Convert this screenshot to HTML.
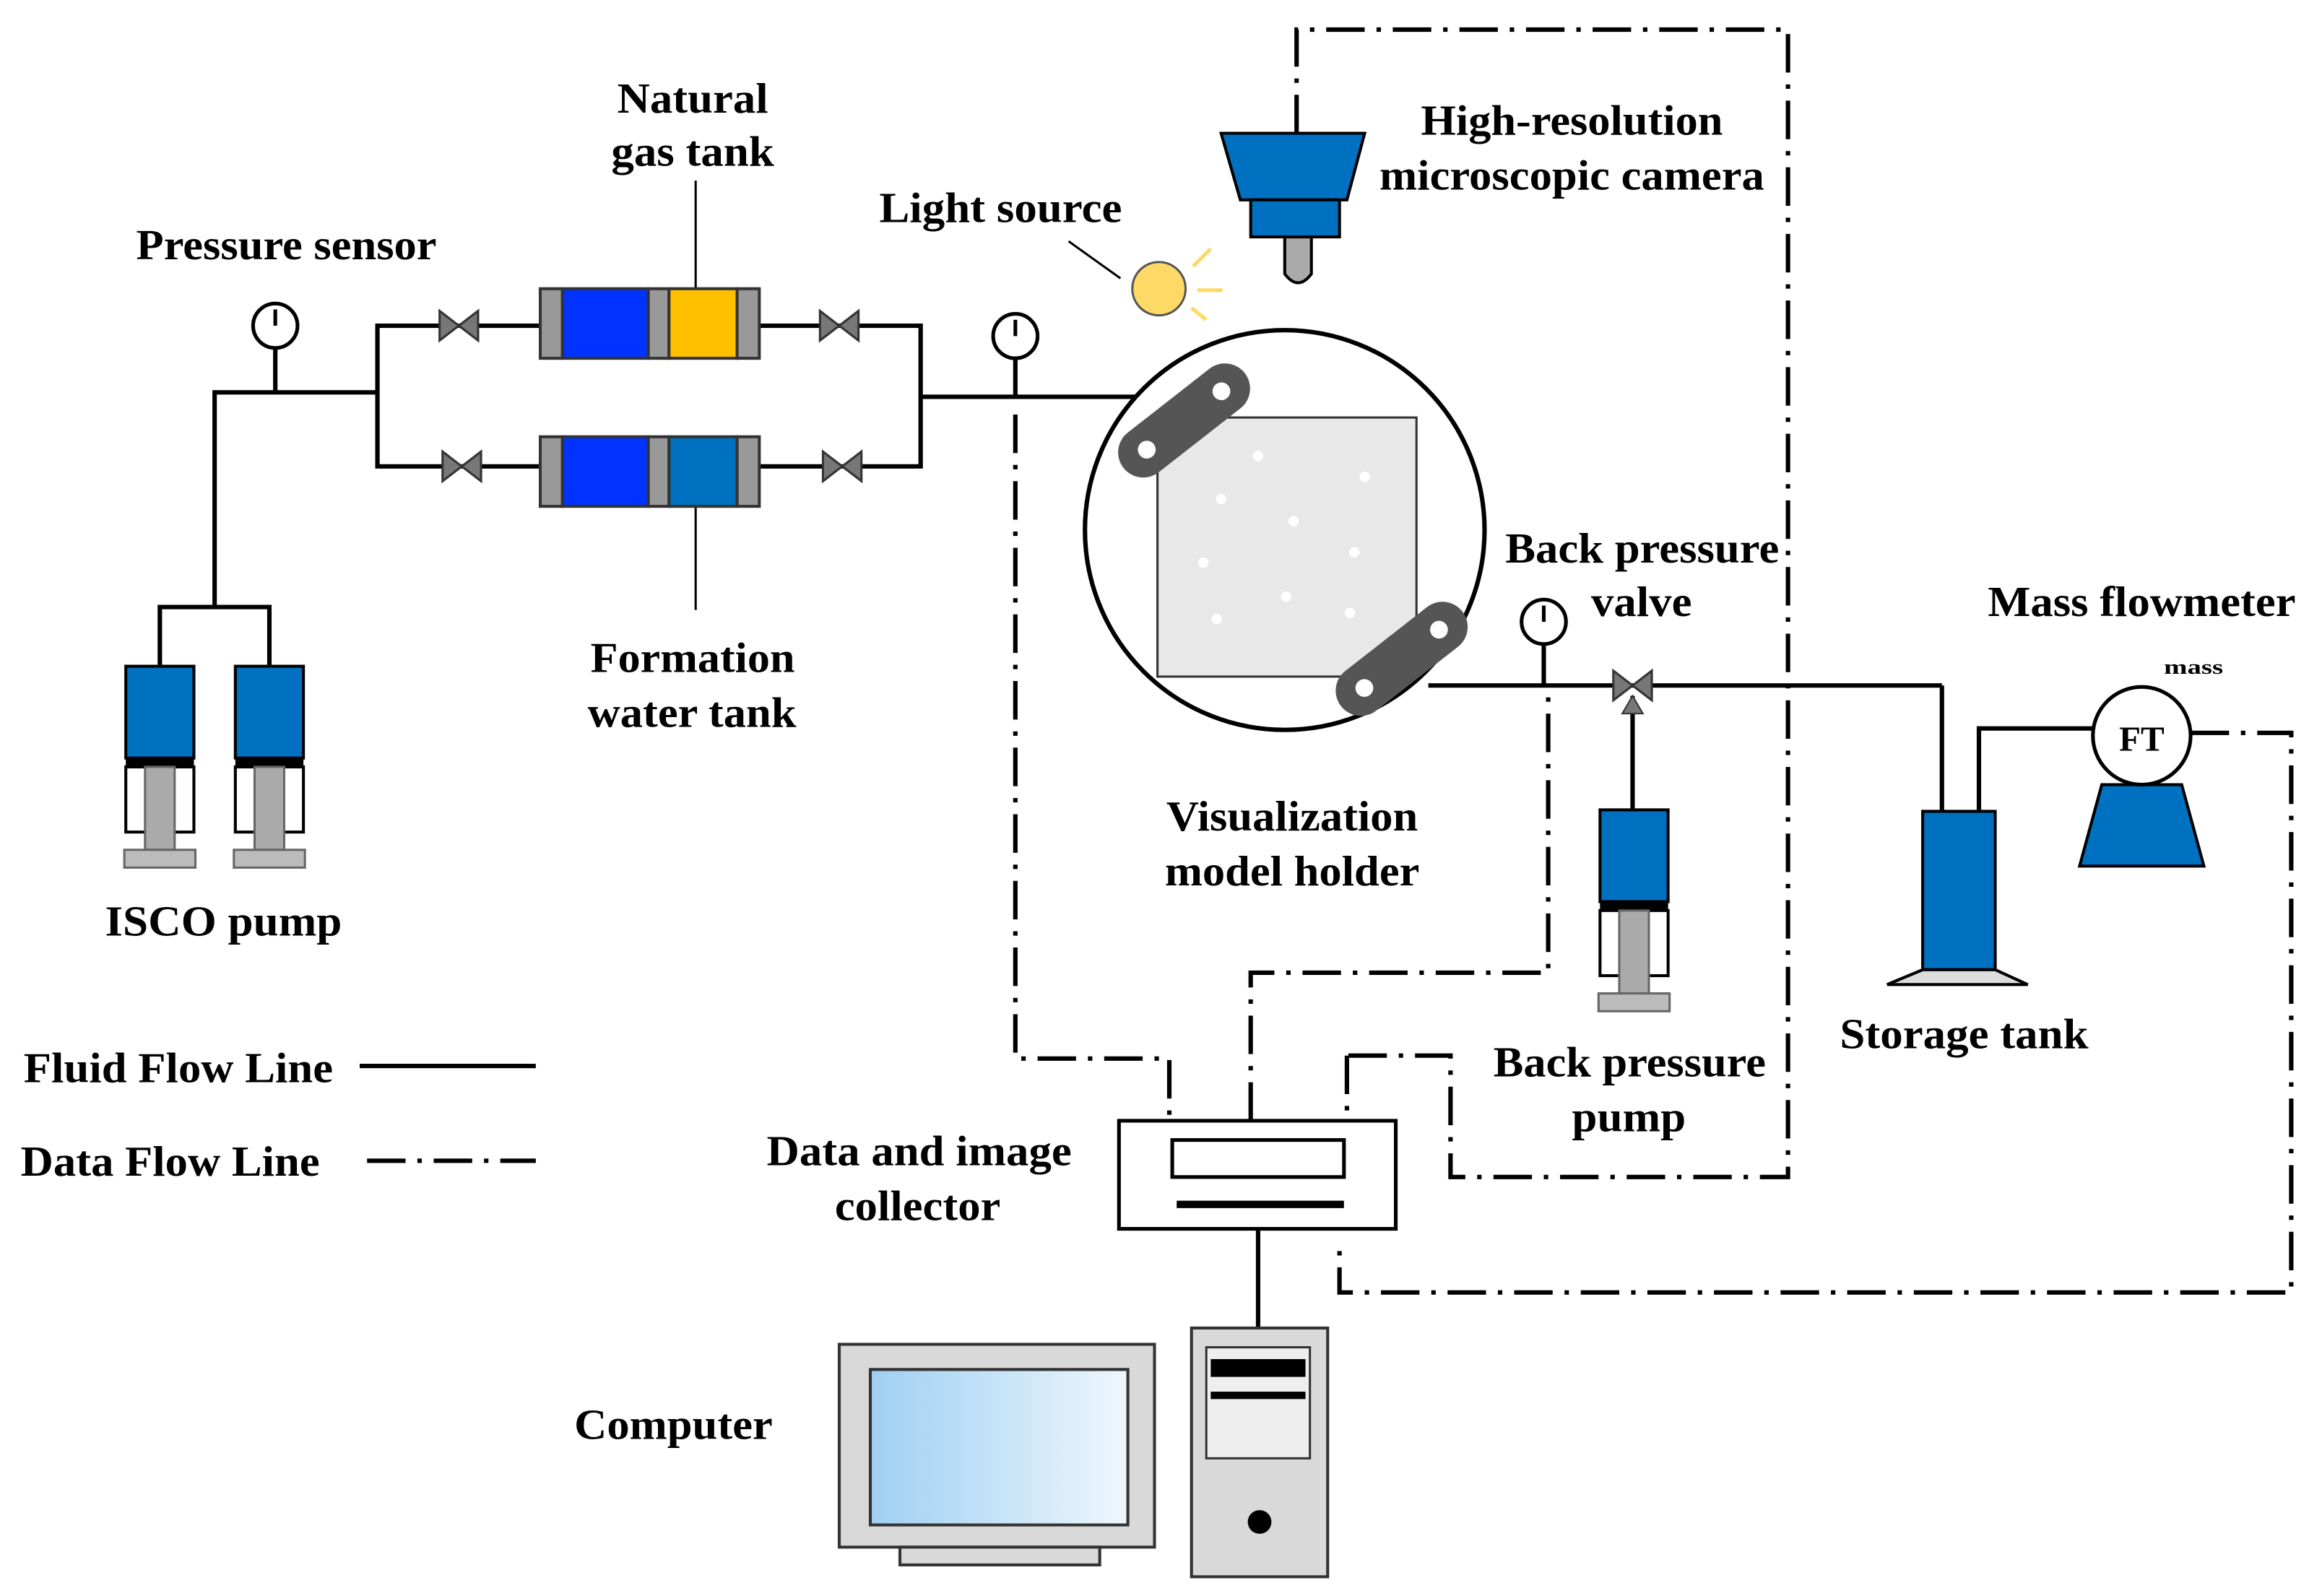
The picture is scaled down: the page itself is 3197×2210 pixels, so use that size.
<!DOCTYPE html>
<html><head><meta charset="utf-8"><style>html,body{margin:0;padding:0;background:#fff}svg{display:block}</style></head><body>
<svg width="3197" height="2210" viewBox="0 0 1560 1078" preserveAspectRatio="none" xmlns="http://www.w3.org/2000/svg">
<defs>
<linearGradient id="scr" x1="0" y1="0" x2="1" y2="0"><stop offset="0" stop-color="#9fd0f2"/><stop offset="1" stop-color="#eef7fd"/></linearGradient>
<g id="valve"><polygon points="-13,-10 0,0 -13,10" fill="#777" stroke="#333" stroke-width="1.5"/><polygon points="13,-10 0,0 13,10" fill="#777" stroke="#333" stroke-width="1.5"/></g>
<g id="gauge"><circle r="15" fill="#fff" stroke="#000" stroke-width="2.5"/><line x1="0" y1="0" x2="0" y2="-11" stroke="#000" stroke-width="2.5"/></g>
<g id="pump"><rect x="0" y="0" width="46" height="62" fill="#0070c0" stroke="#000" stroke-width="2"/><rect x="0" y="62" width="46" height="6" fill="#000"/><rect x="0" y="68" width="46" height="44" fill="#fff" stroke="#000" stroke-width="2"/><rect x="13" y="68" width="20" height="56" fill="#aaa" stroke="#666" stroke-width="1.5"/><rect x="-1" y="124" width="48" height="12" fill="#bbb" stroke="#666" stroke-width="1.5"/></g>
</defs>
<g font-family="Liberation Serif, serif" font-weight="bold" font-size="29" fill="#000" lengthAdjust="spacingAndGlyphs">
<text x="92" y="175" textLength="203" lengthAdjust="spacingAndGlyphs">Pressure sensor</text>
<text x="417" y="76" textLength="102" lengthAdjust="spacingAndGlyphs">Natural</text>
<text x="413" y="112" textLength="110" lengthAdjust="spacingAndGlyphs">gas tank</text>
<text x="594" y="150" textLength="164" lengthAdjust="spacingAndGlyphs">Light source</text>
<text x="960" y="91" textLength="204" lengthAdjust="spacingAndGlyphs">High-resolution</text>
<text x="932" y="128" textLength="260" lengthAdjust="spacingAndGlyphs">microscopic camera</text>
<text x="1017" y="380" textLength="185" lengthAdjust="spacingAndGlyphs">Back pressure</text>
<text x="1075" y="416" textLength="68" lengthAdjust="spacingAndGlyphs">valve</text>
<text x="1343" y="416" textLength="208" lengthAdjust="spacingAndGlyphs">Mass flowmeter</text>
<text x="1462" y="455" font-size="14" textLength="40" lengthAdjust="spacingAndGlyphs">mass</text>
<text x="399" y="454" textLength="138" lengthAdjust="spacingAndGlyphs">Formation</text>
<text x="397" y="491" textLength="141" lengthAdjust="spacingAndGlyphs">water tank</text>
<text x="788" y="561" textLength="170" lengthAdjust="spacingAndGlyphs">Visualization</text>
<text x="787" y="598" textLength="172" lengthAdjust="spacingAndGlyphs">model holder</text>
<text x="71" y="632" textLength="160" lengthAdjust="spacingAndGlyphs">ISCO pump</text>
<text x="16" y="731" textLength="209" lengthAdjust="spacingAndGlyphs">Fluid Flow Line</text>
<text x="14" y="794" textLength="202" lengthAdjust="spacingAndGlyphs">Data Flow Line</text>
<text x="1009" y="727" textLength="184" lengthAdjust="spacingAndGlyphs">Back pressure</text>
<text x="1062" y="764" textLength="77" lengthAdjust="spacingAndGlyphs">pump</text>
<text x="1243" y="708" textLength="168" lengthAdjust="spacingAndGlyphs">Storage tank</text>
<text x="518" y="787" textLength="206" lengthAdjust="spacingAndGlyphs">Data and image</text>
<text x="564" y="824" textLength="112" lengthAdjust="spacingAndGlyphs">collector</text>
<text x="388" y="972" textLength="134" lengthAdjust="spacingAndGlyphs">Computer</text>
</g>
<g stroke="#000" stroke-width="3" fill="none">
<polyline points="145,410 145,265 255,265"/>
<line x1="186" y1="265" x2="186" y2="235"/>
<polyline points="108,450 108,410 182,410 182,450"/>
<polyline points="365,220 255,220 255,315 365,315"/>
<polyline points="513,220 622,220 622,315 513,315"/>
<line x1="622" y1="268" x2="772" y2="268"/>
<line x1="686" y1="268" x2="686" y2="242"/>
<line x1="965" y1="463" x2="1312" y2="463"/>
<line x1="1043" y1="463" x2="1043" y2="435"/>
<line x1="1312" y1="463" x2="1312" y2="548"/>
<line x1="1103" y1="470" x2="1103" y2="547"/>
<polyline points="1337,548 1337,492 1415,492"/>
<line x1="243" y1="720" x2="362" y2="720"/>
<line x1="850" y1="830" x2="850" y2="897"/>
<line x1="470" y1="122" x2="470" y2="195" stroke-width="1.5"/>
<line x1="470" y1="342" x2="470" y2="412" stroke-width="1.5"/>
<line x1="722" y1="163" x2="757" y2="188" stroke-width="1.5"/>
</g>
<use href="#gauge" x="186" y="220"/><use href="#gauge" x="686" y="227"/><use href="#gauge" x="1043" y="420"/>
<use href="#valve" x="310" y="220"/><use href="#valve" x="312" y="315"/><use href="#valve" x="567" y="220"/><use href="#valve" x="569" y="315"/>
<use href="#valve" x="1103" y="463"/><polygon points="1096,482 1103,470 1110,482" fill="#777" stroke="#333"/>
<g stroke="#333" stroke-width="2">
<rect x="365" y="195" width="15" height="47" fill="#999"/><rect x="380" y="195" width="58" height="47" fill="#0033ff"/><rect x="438" y="195" width="14" height="47" fill="#999"/><rect x="452" y="195" width="46" height="47" fill="#ffc000"/><rect x="498" y="195" width="15" height="47" fill="#999"/>
<rect x="365" y="295" width="15" height="47" fill="#999"/><rect x="380" y="295" width="58" height="47" fill="#0033ff"/><rect x="438" y="295" width="14" height="47" fill="#999"/><rect x="452" y="295" width="46" height="47" fill="#0070c0"/><rect x="498" y="295" width="15" height="47" fill="#999"/>
</g>
<use href="#pump" x="85" y="450"/><use href="#pump" x="159" y="450"/><use href="#pump" x="1081" y="547"/>
<circle cx="868" cy="358" r="135" fill="#fff" stroke="#000" stroke-width="3"/>
<rect x="782" y="282" width="175" height="175" fill="#e8e8e8" stroke="#333" stroke-width="1.5"/>
<g fill="#fff"><circle cx="850" cy="308" r="3.5"/><circle cx="922" cy="322" r="3.5"/><circle cx="825" cy="337" r="3.5"/><circle cx="874" cy="352" r="3.5"/><circle cx="813" cy="380" r="3.5"/><circle cx="915" cy="373" r="3.5"/><circle cx="869" cy="403" r="3.5"/><circle cx="822" cy="418" r="3.5"/><circle cx="912" cy="414" r="3.5"/></g>
<g transform="translate(800,284) rotate(-38)"><rect x="-52" y="-17" width="104" height="34" rx="17" fill="#555"/><circle cx="-32" cy="0" r="6" fill="#fff"/><circle cx="32" cy="0" r="6" fill="#fff"/></g>
<g transform="translate(947,445) rotate(-38)"><rect x="-52" y="-17" width="104" height="34" rx="17" fill="#555"/><circle cx="-32" cy="0" r="6" fill="#fff"/><circle cx="32" cy="0" r="6" fill="#fff"/></g>
<circle cx="783" cy="195" r="18" fill="#ffd966" stroke="#555" stroke-width="1.5"/>
<g stroke="#ffd966" stroke-width="2.5"><line x1="806" y1="180" x2="818" y2="168"/><line x1="809" y1="196" x2="826" y2="196"/><line x1="805" y1="208" x2="815" y2="216"/></g>
<polygon points="825,90 922,90 910,135 838,135" fill="#0070c0" stroke="#000" stroke-width="2"/>
<rect x="845" y="135" width="60" height="25" fill="#0070c0" stroke="#000" stroke-width="2"/>
<path d="M868,160 L868,185 Q877,197 886,185 L886,160 Z" fill="#aaa" stroke="#000" stroke-width="2"/>
<rect x="1299" y="548" width="49" height="107" fill="#0070c0" stroke="#000" stroke-width="2"/>
<polygon points="1299,655 1348,655 1370,665 1275,665" fill="#ddd" stroke="#000" stroke-width="2"/>
<polygon points="1420,530 1474,530 1489,585 1405,585" fill="#0070c0" stroke="#000" stroke-width="2"/>
<circle cx="1447" cy="497" r="33" fill="#fff" stroke="#000" stroke-width="2.5"/>
<text x="1447" y="507" text-anchor="middle" font-family="Liberation Serif, serif" font-weight="bold" font-size="24">FT</text>
<g stroke="#000" stroke-width="3" fill="none" stroke-dasharray="26,8,3,8">
<polyline points="876,90 876,20 1208,20 1208,795 980,795 980,713 905,713"/>
<polyline points="686,280 686,715 790,715 790,757"/>
<polyline points="845,757 845,657 1046,657 1046,470"/>
<line x1="910" y1="713" x2="910" y2="757"/>
<polyline points="1480,495 1548,495 1548,873 905,873 905,843"/>
<line x1="248" y1="784" x2="362" y2="784"/>
</g>
<rect x="756" y="757" width="187" height="73" fill="#fff" stroke="#000" stroke-width="2.5"/>
<rect x="792" y="770" width="116" height="25" fill="#fff" stroke="#000" stroke-width="2.5"/>
<rect x="795" y="811" width="113" height="5" fill="#000"/>
<rect x="567" y="908" width="213" height="137" fill="#d9d9d9" stroke="#333" stroke-width="2"/>
<rect x="588" y="925" width="174" height="105" fill="url(#scr)" stroke="#333" stroke-width="2"/>
<rect x="608" y="1045" width="135" height="12" fill="#d9d9d9" stroke="#333" stroke-width="2"/>
<rect x="805" y="897" width="92" height="168" fill="#d9d9d9" stroke="#333" stroke-width="2"/>
<rect x="815" y="910" width="70" height="75" fill="#eee" stroke="#333" stroke-width="1.5"/>
<rect x="818" y="918" width="64" height="12" fill="#000"/><rect x="818" y="940" width="64" height="5" fill="#000"/>
<circle cx="851" cy="1028" r="8" fill="#000"/>
</svg>
</body></html>
